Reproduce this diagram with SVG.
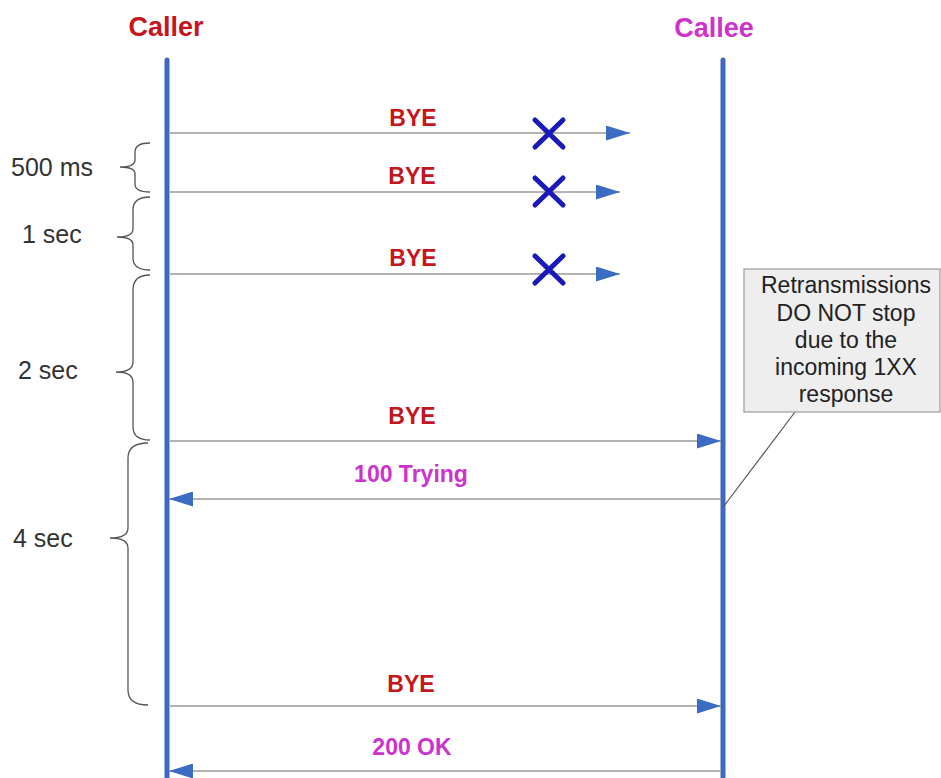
<svg xmlns="http://www.w3.org/2000/svg" width="941" height="778" viewBox="0 0 941 778">
<style>
.life{stroke:#3f68c2;stroke-width:5;stroke-linecap:round}
.msg{stroke:#9a9a9a;stroke-width:1.5;fill:none}
.lbl{font-family:"Liberation Sans",Arial,sans-serif;font-weight:bold;font-size:23px;text-anchor:middle}
.red{fill:#c4161c}
.mag{fill:#cc33cc}
.time{font-family:"Liberation Sans",Arial,sans-serif;font-size:25px;fill:#333}
.brace{stroke:#555;stroke-width:1.3;fill:none}
.x{stroke:#1a1ab8;stroke-width:5;stroke-linecap:round}
.note{font-family:"Liberation Sans",Arial,sans-serif;font-size:23px;fill:#222;text-anchor:middle}
</style>
<defs>
<marker id="ah" markerUnits="userSpaceOnUse" markerWidth="24" markerHeight="15" refX="24" refY="7.5" orient="auto">
<path d="M0,0 L24,7.5 L0,15 z" fill="#3b6cc4"/>
</marker>
</defs>
<rect width="941" height="778" fill="#fff"/>
<g id="caller">
<text x="166" y="36" class="lbl red" style="font-size:27px">Caller</text>
<line x1="167" y1="60" x2="167" y2="780" class="life"/>
</g>
<g id="callee">
<text x="714" y="37" class="lbl mag" style="font-size:27px">Callee</text>
<line x1="723" y1="60" x2="723" y2="780" class="life"/>
</g>
<g id="connectors">
<line x1="170" y1="133" x2="630" y2="133" class="msg" marker-end="url(#ah)"/>
<line x1="170" y1="192" x2="620" y2="192" class="msg" marker-end="url(#ah)"/>
<line x1="170" y1="274" x2="620" y2="274" class="msg" marker-end="url(#ah)"/>
<line x1="170" y1="441" x2="721" y2="441" class="msg" marker-end="url(#ah)"/>
<line x1="721" y1="499" x2="169" y2="499" class="msg" marker-end="url(#ah)"/>
<line x1="170" y1="706" x2="721" y2="706" class="msg" marker-end="url(#ah)"/>
<line x1="721" y1="771" x2="169" y2="771" class="msg" marker-end="url(#ah)"/>
<line x1="795" y1="412" x2="724" y2="506" stroke="#555" stroke-width="1.2"/>
</g>
<g id="labels">
<text x="413" y="126" class="lbl red">BYE</text>
<text x="412" y="184" class="lbl red">BYE</text>
<text x="413" y="266" class="lbl red">BYE</text>
<text x="412" y="424" class="lbl red">BYE</text>
<text x="411" y="482" class="lbl mag">100 Trying</text>
<text x="411" y="692" class="lbl red">BYE</text>
<text x="412" y="755" class="lbl mag">200 OK</text>
</g>
<g id="drops">
<path d="M535,120 L563,147 M563,120 L535,147" class="x"/>
<path d="M535,178 L563,205 M563,178 L535,205" class="x"/>
<path d="M535,256 L563,283 M563,256 L535,283" class="x"/>
</g>
<g id="timers">
<path class="brace" d="M150,143 Q135,143 135,152 L135,160 Q135,167 120,167 Q135,167 135,174 L135,184 Q135,192 150,192"/>
<text x="11" y="176" class="time">500 ms</text>
<path class="brace" d="M150,197 Q133,197 133,210 L133,229 Q133,237 117,237 Q133,237 133,245 L133,258 Q133,270 150,270"/>
<text x="22" y="243" class="time">1 sec</text>
<path class="brace" d="M150,275 Q133,275 133,290 L133,362 Q133,372 116,372 Q133,372 133,382 L133,427 Q133,440 150,440"/>
<text x="18" y="379" class="time">2 sec</text>
<path class="brace" d="M148,443 Q128,443 128,458 L128,528 Q128,538 110,538 Q128,538 128,548 L128,690 Q128,705 148,705"/>
<text x="13" y="547" class="time">4 sec</text>
</g>
<g id="note">
<rect x="744" y="269" width="196" height="143" fill="#eeeeee" stroke="#9a9a9a" stroke-width="1.2"/>
<text x="846" y="293" class="note">Retransmissions</text>
<text x="846" y="321" class="note">DO NOT stop</text>
<text x="846" y="348" class="note">due to the</text>
<text x="846" y="375" class="note">incoming 1XX</text>
<text x="846" y="402" class="note">response</text>
</g>
</svg>
